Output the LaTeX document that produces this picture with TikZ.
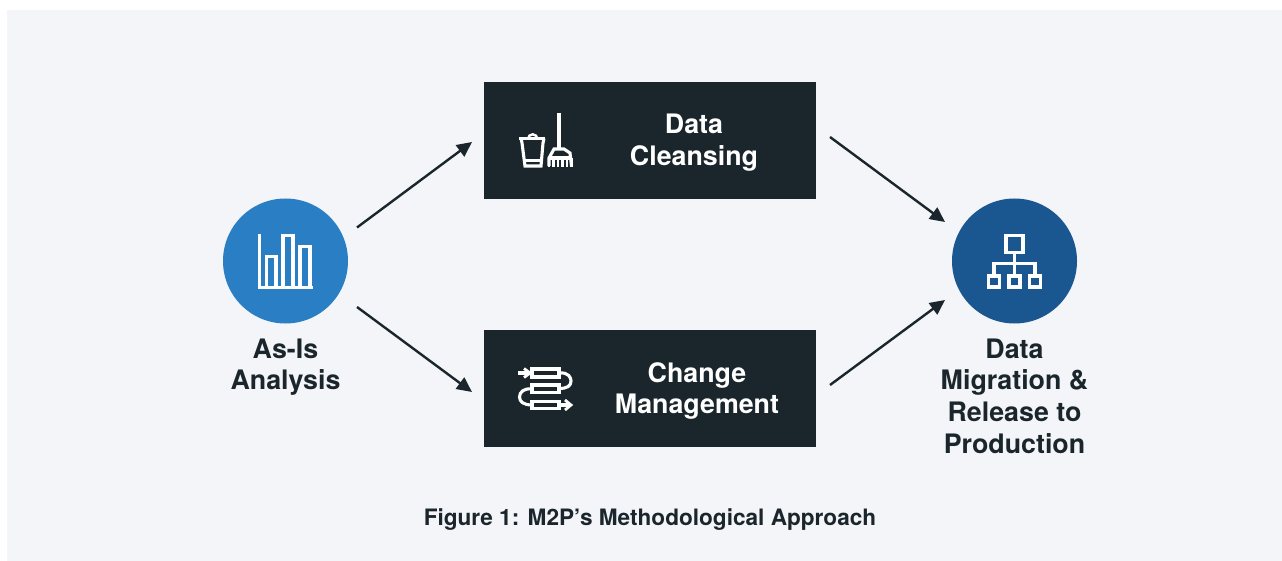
\documentclass[tikz,border=0pt]{standalone}
\usepackage{fontspec}
\setmainfont{TeX Gyre Heros}
\usetikzlibrary{arrows.meta}
\definecolor{panel}{HTML}{F3F5F9}
\definecolor{dark}{HTML}{1B262C}
\definecolor{blueA}{HTML}{2A7EC3}
\definecolor{blueB}{HTML}{1A568F}
\tikzset{
  x=1pt,y=-1pt,
  box/.style={fill=dark,minimum width=332pt,minimum height=117pt,inner sep=0pt,outer sep=0pt},
  disc/.style={circle,minimum size=125pt,inner sep=0pt,outer sep=0pt},
  boxlabel/.style={text=white,align=center,font=\fontsize{26.8}{31.7}\selectfont\bfseries,inner sep=0pt},
  capt/.style={text=dark,align=center,font=\fontsize{26.8}{31.7}\selectfont\bfseries,inner sep=0pt,anchor=north},
  flow/.style={draw=dark,line width=2.4pt,-{Triangle[length=15pt,width=14pt]}},
  icon/.style={draw=white,line width=3.1pt,fill=none},
}
\begin{document}
\begin{tikzpicture}
\useasboundingbox (0,0) rectangle (1282,561);
\fill[white] (0,0) rectangle (1282,561);
\fill[panel] (7,10) rectangle (1282,561);
\node[box] (cleanse) at (650,140.5) {};
\node[box] (change) at (650,388.5) {};
\node[disc,fill=blueA] (asis) at (285.5,261) {};
\node[disc,fill=blueB] (prod) at (1014.5,261) {};
\node[boxlabel] (cleanseT) at (694,142.5) {Data\\Cleansing};
\node[boxlabel] (changeT) at (697,391) {Change\\Management};
\node[capt] (asisT) at (285.5,338.5) {As-Is\\Analysis};
\node[capt] (prodT) at (1014.5,338.5) {Data\\Migration \&\\Release to\\Production};
\node[text=dark,font=\fontsize{22.6}{26}\selectfont\bfseries,inner sep=0pt] (fig) at (650,519.5) {Figure 1: M2P’s Methodological Approach};
% connectors
\coordinate (a1) at (357,227.5); \coordinate (a2) at (472,142);
\coordinate (b1) at (357,307); \coordinate (b2) at (472,392);
\coordinate (c1) at (830,137); \coordinate (c2) at (945,222);
\coordinate (d1) at (830,385); \coordinate (d2) at (945,300);
\draw[flow] (a1) -- (a2);
\draw[flow] (b1) -- (b2);
\draw[flow] (c1) -- (c2);
\draw[flow] (d1) -- (d2);
% bar chart icon
\draw[icon] (259.5,234) -- (259.5,287.5) -- (312.5,287.5);
\draw[icon] (266.5,287) -- (266.5,256.5) -- (276,256.5) -- (276,287);
\draw[icon] (283,287) -- (283,235.5) -- (293,235.5) -- (293,287);
\draw[icon] (300,287) -- (300,246.5) -- (310,246.5) -- (310,287);
% hierarchy icon
\draw[icon] (1006,235.5) rectangle (1023,252.5);
\draw[icon] (1014.5,252.5) -- (1014.5,276);
\draw[icon] (994,276) -- (994,263.5) -- (1035,263.5) -- (1035,276);
\draw[icon] (988.5,276) rectangle (999.5,287);
\draw[icon] (1009,276) rectangle (1020,287);
\draw[icon] (1029.5,276) rectangle (1040.5,287);
% bucket and broom icon
\draw[icon] (519,138.5) -- (545,138.5);
\draw[icon] (521,138.5) -- (522,143) -- (525,166) -- (541,166) -- (543,143) -- (544,138.5);
\draw[icon] (523.5,160.5) -- (542,160.5);
\draw[icon,line width=2.4pt] (528,139) arc[start angle=180,end angle=360,radius=4.7];
\draw[icon] (559,113) -- (559,148);
\draw[icon] (549,166) -- (549,158) -- (554,149) -- (564,149) -- (570,153) -- (571.5,166);
\draw[icon] (549,158) -- (570.5,158);
\foreach \tx in {553.5,558,562.5,567,571.5} \draw[icon,line width=2.1pt] (\tx,158) -- (\tx,167);
\draw[icon,line width=2.1pt] (549,158) -- (549,167);
% flow icon
\draw[icon] (518,373) -- (531,373);
\draw[icon,line width=2.8pt] (524,368.5) -- (530,373) -- (524,377.5);
\draw[icon] (532,369) rectangle (559,377);
\draw[icon] (559,373) .. controls (569,372) and (571,378) .. (571,381) .. controls (571,386) and (567,388.5) .. (559,388.5);
\draw[icon] (532,385) rectangle (559,392.5);
\draw[icon] (532,389) .. controls (524,388) and (519.5,392) .. (519.5,397) .. controls (519.5,402) and (524,405) .. (532,405);
\draw[icon] (532,401.5) rectangle (559,408.5);
\draw[icon] (559,405) -- (570,405);
\draw[icon,line width=2.8pt] (565,400) -- (571,405) -- (565,410);
\end{tikzpicture}
\end{document}
